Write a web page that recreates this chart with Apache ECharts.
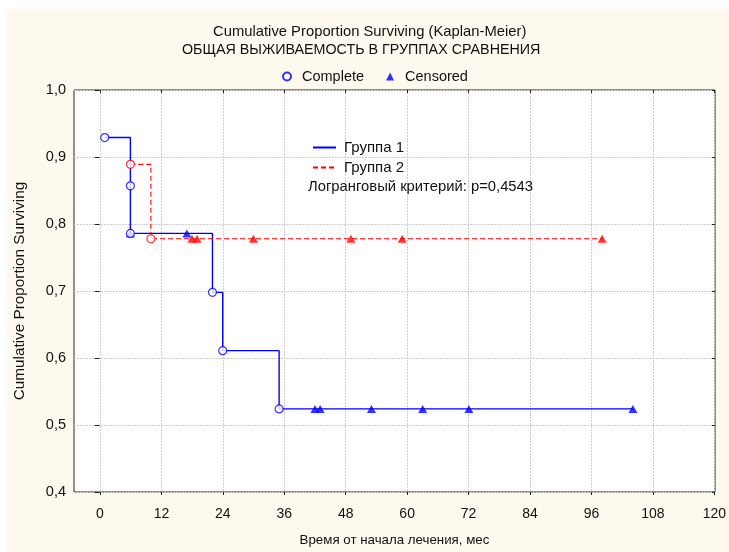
<!DOCTYPE html>
<html>
<head>
<meta charset="utf-8">
<script src="https://cdn.jsdelivr.net/npm/echarts@6/dist/echarts.min.js"></script>
<style>
  body { margin: 0; background: #fff; }
  #chart { width: 729px; height: 552px; }
</style>
</head>
<body>
<div id="chart"></div>
<script>
// Группа 1: моменты смерти и оценки KM
const g1EventTimes = [1, 6, 6, 22, 24, 35]
const g1EventSurv = [0.929, 0.857, 0.786, 0.698, 0.611, 0.524]
const g1CensTimes = [6, 17, 42, 43, 53, 63, 72, 104]

// Группа 2
const g2EventTimes = [6, 10]
const g2EventSurv = [0.889, 0.778]
const g2CensTimes = [18, 19, 30, 49, 59, 98]

const xTicks = [0, 12, 24, 36, 48, 60, 72, 84, 96, 108, 120]
const yTicks = [0.4, 0.5, 0.6, 0.7, 0.8, 0.9, 1.0]

const FONT = 'Liberation Sans, Arial, sans-serif'
const BLUE = '#0000ff'
const RED = '#ff0000'

// значение кривой в момент t (последняя оценка не позже t)
const survAt = (times, surv, t) => {
  let s = 1
  times.forEach((tt, i) => { if (tt <= t) s = surv[i] })
  return s
}

const eventPoints = (times, surv) => times.map((t, i) => [t, surv[i]])
const censPoints = (times, surv, cens) => cens.map(t => [t, survAt(times, surv, t)])
const stepLine = (times, surv, cens) => {
  const pts = eventPoints(times, surv)
  const last = cens[cens.length - 1]
  pts.push([last, survAt(times, surv, last)])
  return pts
}

const chart = echarts.init(document.getElementById('chart'))

const txt = size => ({ fontFamily: FONT, fontSize: size, fontWeight: 'normal', color: '#111' })
const gridLine = { show: true, lineStyle: { color: '#cdcdcd', type: [2, 1], width: 1 } }

const option = {
  backgroundColor: '#fdf9ef',
  animation: false,
  graphic: [
    { type: 'rect', left: 0, top: 0, shape: { width: 729, height: 10 }, style: { fill: '#fff' } },
    { type: 'rect', left: 0, top: 0, shape: { width: 7, height: 552 }, style: { fill: '#fff' } }
  ],
  title: [
    { text: 'Cumulative Proportion Surviving (Kaplan-Meier)', left: 213, top: 24, padding: 0, textStyle: txt(14.8) },
    { text: 'ОБЩАЯ ВЫЖИВАЕМОСТЬ В ГРУППАХ СРАВНЕНИЯ', left: 182, top: 43, padding: 0, textStyle: txt(14.3) },
    { text: 'Логранговый критерий: p=0,4543', left: 308, top: 179, padding: 0, textStyle: txt(14.8) }
  ],
  legend: [
    {
      data: ['Complete', 'Censored'],
      left: 277,
      top: 64,
      itemWidth: 8,
      itemHeight: 8,
      itemGap: 22,
      textStyle: { ...txt(14.5), padding: [0, 0, 0, 6] }
    },
    {
      data: ['Группа 1', 'Группа 2'],
      orient: 'vertical',
      left: 312,
      top: 140,
      itemWidth: 23,
      itemHeight: 14,
      itemGap: 5,
      padding: 0,
      itemStyle: { opacity: 0 },
      textStyle: { ...txt(15), padding: [0, 0, 0, 3] }
    }
  ],
  grid: [
    { left: 74, right: 14, top: 90, bottom: 57, show: true, backgroundColor: '#fff', borderColor: '#222', borderWidth: 1 },
    { left: 100, right: 14, top: 90, bottom: 57 }
  ],
  xAxis: [
    {
      type: 'value', gridIndex: 0, min: -5, max: 120,
      axisLine: { show: false }, axisTick: { show: false }, axisLabel: { show: false }, splitLine: { show: false },
      name: 'Время от начала лечения, мес',
      nameLocation: 'middle',
      nameGap: 42,
      nameTextStyle: txt(13.3)
    },
    {
      type: 'value', gridIndex: 1, min: xTicks[0], max: xTicks[xTicks.length - 1], interval: 12,
      axisLine: { show: false },
      axisTick: { show: true, inside: true, length: 3, lineStyle: { color: '#222' } },
      axisLabel: { ...txt(14), margin: 12 },
      splitLine: gridLine
    },
    {
      type: 'value', gridIndex: 1, position: 'top', min: xTicks[0], max: xTicks[xTicks.length - 1], interval: 12,
      axisLine: { show: false },
      axisTick: { show: true, inside: true, length: 3, lineStyle: { color: '#222' } },
      axisLabel: { show: false },
      splitLine: { show: false }
    }
  ],
  yAxis: [
    {
      type: 'value', gridIndex: 0, min: yTicks[0], max: yTicks[yTicks.length - 1], interval: 0.1,
      axisLine: { show: false },
      axisTick: { show: true, length: 5, lineStyle: { color: '#222' } },
      axisLabel: { ...txt(14.5), margin: 8, formatter: v => v.toFixed(1).replace('.', ',') },
      splitLine: gridLine,
      name: 'Cumulative Proportion Surviving',
      nameLocation: 'middle',
      nameGap: 47,
      nameTextStyle: txt(15.3)
    },
    {
      type: 'value', gridIndex: 0, position: 'right', min: yTicks[0], max: yTicks[yTicks.length - 1], interval: 0.1,
      axisLine: { show: false },
      axisTick: { show: true, inside: true, length: 3, lineStyle: { color: '#222' } },
      axisLabel: { show: false },
      splitLine: { show: false }
    },
    {
      type: 'value', gridIndex: 1, min: yTicks[0], max: yTicks[yTicks.length - 1],
      show: false
    }
  ],
  series: [
    {
      name: 'Группа 1', type: 'line', step: 'end', xAxisIndex: 0, yAxisIndex: 0,
      data: stepLine(g1EventTimes, g1EventSurv, g1CensTimes),
      symbol: 'none', color: BLUE,
      lineStyle: { color: BLUE, width: 1.4 }, z: 2
    },
    {
      name: 'Группа 2', type: 'line', step: 'end', xAxisIndex: 0, yAxisIndex: 0,
      data: stepLine(g2EventTimes, g2EventSurv, g2CensTimes),
      symbol: 'none', color: RED,
      lineStyle: { color: RED, width: 1.1, type: [5, 3] }, z: 2
    },
    {
      name: 'Censored', type: 'scatter', xAxisIndex: 0, yAxisIndex: 0,
      data: censPoints(g1EventTimes, g1EventSurv, g1CensTimes),
      symbol: 'triangle', symbolSize: [9, 8], itemStyle: { color: BLUE }, z: 3
    },
    {
      name: 'Censored', type: 'scatter', xAxisIndex: 0, yAxisIndex: 0,
      data: censPoints(g2EventTimes, g2EventSurv, g2CensTimes),
      symbol: 'triangle', symbolSize: [9, 8], itemStyle: { color: RED }, z: 3
    },
    {
      name: 'Complete', type: 'scatter', xAxisIndex: 0, yAxisIndex: 0,
      data: eventPoints(g1EventTimes, g1EventSurv),
      symbol: 'circle', symbolSize: 8,
      itemStyle: { color: '#fff', borderColor: BLUE, borderWidth: 1.2 }, z: 4
    },
    {
      name: 'Complete', type: 'scatter', xAxisIndex: 0, yAxisIndex: 0,
      data: eventPoints(g2EventTimes, g2EventSurv),
      symbol: 'circle', symbolSize: 8,
      itemStyle: { color: '#fff', borderColor: RED, borderWidth: 1.2 }, z: 4
    }
  ]
}

chart.setOption(option)
</script>
</body>
</html>
